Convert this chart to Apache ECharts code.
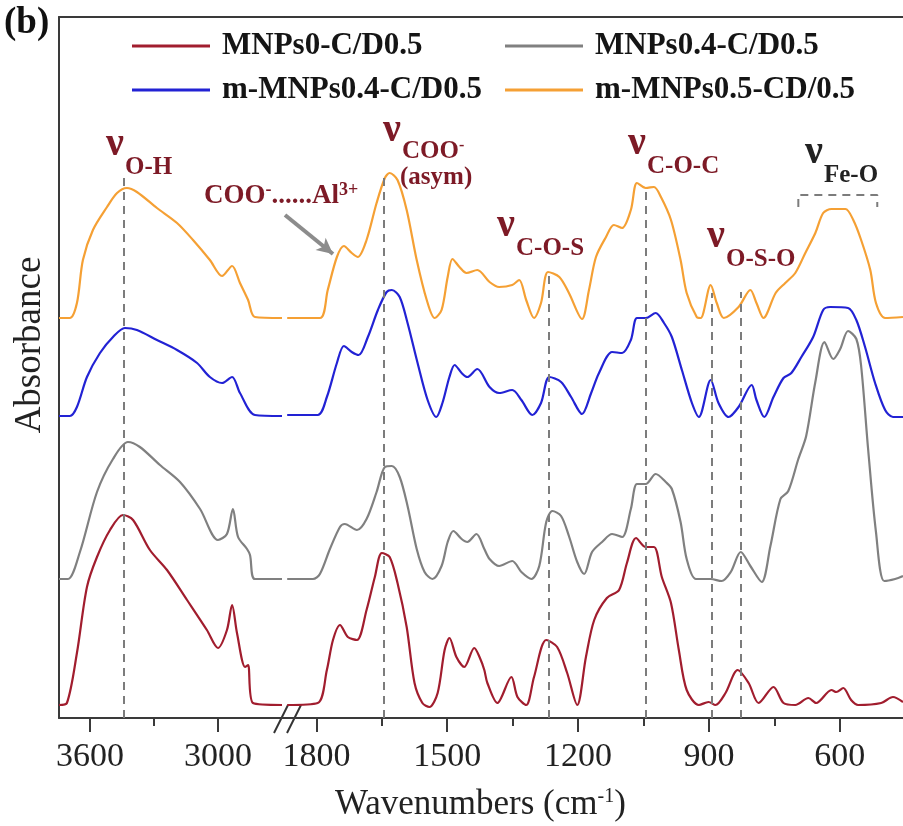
<!DOCTYPE html>
<html>
<head>
<meta charset="utf-8">
<script src="https://cdn.jsdelivr.net/npm/echarts@6/dist/echarts.min.js"></script>
<style>
  html, body { margin: 0; padding: 0; background: #ffffff; }
  #chart { width: 903px; height: 826px; }
</style>
</head>
<body>
<div id="chart"></div>
<script>
// FTIR spectra, stacked, with a broken wavenumber axis (3745–2686 | 1872–455 cm-1)
const seriesNames = ['MNPs0-C/D0.5', 'MNPs0.4-C/D0.5', 'm-MNPs0.4-C/D0.5', 'm-MNPs0.5-CD/0.5'];
const seriesColors = ['#a11d2e', '#808080', '#2222d4', '#f5a034'];
// vertical offsets used to stack the spectra (a.u.)
const stackOffsets = [13, 139, 302, 400];

// high-wavenumber region: [wavenumber (cm-1), absorbance (a.u.)]
const mnps0High = [[3745,0],[3708,2],[3661,52],[3614,118],[3567,148],[3506,175],[3445,190],[3398,185],[3319,155],[3239,135],[3145,105],[3052,75],[3000,57],[2958,75],[2934,100],[2911,72],[2873,38],[2859,40],[2836,2],[2700,0]];
const mnps04High = [[3745,0],[3703,0],[3647,27],[3567,87],[3492,120],[3422,137],[3366,132],[3272,114],[3178,97],[3084,70],[3000,39],[2958,45],[2930,70],[2906,42],[2864,30],[2850,24],[2827,0],[2700,0]];
const mMnps04High = [[3745,0],[3694,0],[3661,9],[3614,39],[3553,63],[3492,79],[3436,88],[3380,86],[3286,76],[3192,66],[3098,53],[3038,39],[2981,33],[2934,39],[2897,23],[2827,1],[2700,0]];
const mMnps05High = [[3745,0],[3694,0],[3661,15],[3633,58],[3586,88],[3520,111],[3473,125],[3427,130],[3380,126],[3286,110],[3192,95],[3117,78],[3038,58],[2981,42],[2934,52],[2897,35],[2859,18],[2827,1],[2700,0]];

// fingerprint region: [wavenumber (cm-1), absorbance (a.u.)]
const mnps0Low = [[1867,0],[1797,2],[1776,35],[1762,65],[1746,80],[1728,68],[1707,65],[1685,95],[1666,128],[1650,152],[1632,148],[1614,122],[1593,78],[1575,22],[1557,2],[1541,-2],[1522,12],[1506,55],[1495,67],[1479,48],[1461,38],[1438,57],[1426,48],[1415,35],[1408,22],[1385,2],[1353,28],[1339,8],[1319,0],[1301,28],[1273,65],[1248,58],[1225,32],[1202,0],[1182,48],[1163,85],[1134,107],[1106,115],[1088,142],[1067,167],[1045,158],[1026,158],[1008,128],[987,102],[969,55],[951,15],[923,0],[901,3],[885,0],[862,12],[834,35],[809,22],[786,2],[752,18],[729,2],[702,0],[672,7],[654,2],[619,15],[608,13],[592,17],[574,5],[558,0],[505,2],[478,8],[455,3]];
const mnps04Low = [[1867,0],[1808,0],[1792,5],[1769,30],[1746,52],[1735,55],[1707,49],[1685,60],[1662,87],[1643,112],[1627,113],[1609,102],[1591,73],[1570,30],[1552,7],[1534,0],[1513,13],[1499,37],[1486,48],[1467,40],[1454,37],[1433,45],[1415,30],[1403,20],[1381,13],[1351,18],[1330,7],[1307,0],[1289,13],[1273,57],[1259,68],[1239,63],[1221,43],[1202,17],[1186,5],[1168,27],[1145,37],[1122,45],[1099,42],[1079,70],[1065,95],[1045,95],[1022,105],[999,97],[985,90],[965,57],[951,20],[930,0],[896,0],[871,-2],[850,7],[827,27],[805,13],[779,-3],[759,33],[736,80],[718,88],[695,120],[677,143],[656,197],[635,237],[615,220],[599,230],[581,248],[562,240],[551,213],[535,130],[517,47],[498,-2],[473,0],[455,3]];
const mMnps04Low = [[1867,1],[1797,1],[1776,19],[1753,53],[1737,70],[1719,64],[1703,61],[1682,79],[1659,106],[1639,124],[1627,126],[1609,119],[1591,93],[1568,53],[1545,16],[1525,-1],[1511,13],[1495,39],[1483,51],[1467,43],[1454,39],[1431,47],[1403,29],[1381,23],[1351,26],[1330,16],[1305,1],[1285,13],[1266,39],[1239,34],[1216,19],[1191,2],[1170,23],[1152,43],[1122,64],[1099,63],[1079,76],[1065,98],[1045,98],[1022,103],[1003,93],[985,79],[962,46],[939,13],[923,-1],[896,36],[878,13],[855,-1],[832,9],[802,31],[791,16],[773,-1],[752,19],[729,38],[711,43],[688,59],[661,79],[638,106],[622,109],[581,108],[562,96],[542,69],[519,33],[496,6],[478,-1],[455,-1]];
const mMnps05Low = [[1867,0],[1792,0],[1774,28],[1753,61],[1737,72],[1719,65],[1705,61],[1685,78],[1662,115],[1643,140],[1632,145],[1614,138],[1593,108],[1570,58],[1547,18],[1529,0],[1513,8],[1499,41],[1488,59],[1472,51],[1456,45],[1431,48],[1403,36],[1381,31],[1351,33],[1335,38],[1319,18],[1301,0],[1285,15],[1269,46],[1243,41],[1221,25],[1191,-1],[1175,28],[1159,61],[1136,81],[1118,93],[1099,90],[1079,108],[1065,135],[1045,130],[1026,131],[1010,121],[987,98],[965,58],[951,25],[928,1],[919,0],[896,33],[882,15],[866,0],[832,11],[805,28],[791,15],[775,0],[747,25],[725,35],[702,45],[679,65],[656,85],[638,105],[619,109],[587,109],[569,98],[551,78],[530,48],[517,15],[496,0],[455,1]];

// axis ticks (cm-1)
const majorTicksHigh = [3600, 3000];
const minorTicksHigh = [3300];
const majorTicksLow = [1800, 1500, 1200, 900, 600];
const minorTicksLow = [1650, 1350, 1050, 750];

// band assignment guides: [wavenumber, top of guide (a.u.)]
const bandGuides = [[3441, 540], [1645, 545], [1268, 445], [1045, 530], [894, 425], [828, 426]];
// Fe-O band bracket: [wavenumber, level]
const feOBracket = [[695, 511], [695, 523], [514, 523], [514, 511]];

const highSets = [mnps0High, mnps04High, mMnps04High, mMnps05High];
const lowSets = [mnps0Low, mnps04Low, mMnps04Low, mMnps05Low];

const SERIF = '"Liberation Serif", "Times New Roman", serif';
const FRAME = '#3a3a3a';
const LABEL_RED = '#7d1a26';
const GUIDE = '#7c7c7c';

function lift(pairs, off) { return pairs.map(p => [p[0], p[1] + off]); }

function guideLines(filterFn) {
  return bandGuides.filter(g => filterFn(g[0])).map(g => [
    { coord: [g[0], 0] }, { coord: [g[0], g[1]] }
  ]);
}

const series = [];
for (let i = 0; i < 4; i++) {
  const base = {
    type: 'line', name: seriesNames[i], showSymbol: false, symbol: 'none',
    smooth: 0.3, lineStyle: { color: seriesColors[i], width: 2.2 },
    itemStyle: { color: seriesColors[i] }, z: 3, silent: true
  };
  series.push(Object.assign({}, base, {
    xAxisIndex: 0, yAxisIndex: 0, data: lift(highSets[i], stackOffsets[i])
  }));
  series.push(Object.assign({}, base, {
    xAxisIndex: 3, yAxisIndex: 1, data: lift(lowSets[i], stackOffsets[i])
  }));
}
// dashed guides
series[0].markLine = {
  silent: true, symbol: ['none', 'none'], label: { show: false }, animation: false,
  lineStyle: { type: [8, 6], color: GUIDE, width: 2 },
  data: guideLines(w => w > 2000)
};
series[1].markLine = {
  silent: true, symbol: ['none', 'none'], label: { show: false }, animation: false,
  lineStyle: { type: [8, 6], color: GUIDE, width: 2 },
  data: guideLines(w => w < 2000)
};
// arrow pointing at the COO-...Al3+ shoulder
series[3].markLine = {
  silent: true, symbol: ['none', 'arrow'], symbolSize: [12, 16], label: { show: false }, animation: false,
  lineStyle: { type: 'solid', color: '#8c8c8c', width: 4 },
  data: [[{ x: 285, y: 215 }, { x: 333, y: 254 }]]
};
series.push({
  type: 'line', name: 'Fe-O bracket', xAxisIndex: 3, yAxisIndex: 1, data: feOBracket,
  showSymbol: false, symbol: 'none', silent: true,
  lineStyle: { color: GUIDE, width: 2, type: [8, 6] }, z: 2
});

function xAxisPair(gridIndex, lo, hi, major, minor) {
  return [
    {
      type: 'value', gridIndex, min: lo, max: hi, inverse: true, position: 'bottom',
      axisLine: { show: true, lineStyle: { color: FRAME, width: 2 } },
      axisTick: { show: true, inside: false, length: 14, customValues: major, lineStyle: { color: FRAME, width: 2 } },
      axisLabel: { show: true, customValues: major, formatter: v => String(v), fontFamily: SERIF, fontSize: 34, color: '#222', margin: 22 },
      splitLine: { show: false }
    },
    {
      type: 'value', gridIndex, min: lo, max: hi, inverse: true, position: 'bottom',
      axisLine: { show: false },
      axisTick: { show: true, inside: false, length: 8, customValues: minor, lineStyle: { color: FRAME, width: 2 } },
      axisLabel: { show: false }, splitLine: { show: false }
    },
    {
      type: 'value', gridIndex, min: lo, max: hi, inverse: true, position: 'top',
      axisLine: { show: true, lineStyle: { color: FRAME, width: 2 } },
      axisTick: { show: false }, axisLabel: { show: false }, splitLine: { show: false }
    }
  ];
}

const legendBase = {
  orient: 'vertical', top: 24, padding: 0, itemGap: 0, itemWidth: 78, itemHeight: 3,
  icon: 'rect', selectedMode: false,
  textStyle: { fontFamily: SERIF, fontWeight: 'bold', fontSize: 31, color: '#151515', lineHeight: 30, padding: [14, 0, 0, 7] }
};

function nuLabel(x, y, sub, color, subRich) {
  const c = color || LABEL_RED;
  const els = [{
    type: 'text', x: x, y: y, silent: true,
    style: { text: 'ν', fontFamily: SERIF, fontWeight: 'bold', fontSize: 40, fill: c, align: 'left', verticalAlign: 'bottom' }
  }];
  const subEl = {
    type: 'text', x: x + 19, y: y + 15, silent: true,
    style: { text: sub, fontFamily: SERIF, fontWeight: 'bold', fontSize: 25, fill: c, align: 'left', verticalAlign: 'bottom' }
  };
  if (subRich) subEl.style.rich = subRich;
  els.push(subEl);
  return els;
}

const supRich = {
  b: { fontFamily: SERIF, fontWeight: 'bold', fontSize: 25, fill: LABEL_RED },
  s: { fontFamily: SERIF, fontWeight: 'bold', fontSize: 16, fill: LABEL_RED, verticalAlign: 'top', padding: [0, 0, 12, 0] }
};
const alRich = {
  b: { fontFamily: SERIF, fontWeight: 'bold', fontSize: 27, fill: LABEL_RED },
  s: { fontFamily: SERIF, fontWeight: 'bold', fontSize: 18, fill: LABEL_RED, verticalAlign: 'top', padding: [0, 0, 12, 0] }
};

const graphics = [].concat(
  nuLabel(106, 165, 'O-H'),
  nuLabel(383, 151, '{b|COO}{s|-}', LABEL_RED, supRich),
  nuLabel(497, 246, 'C-O-S'),
  nuLabel(628, 164, 'C-O-C'),
  nuLabel(707, 257, 'O-S-O'),
  nuLabel(805, 173, 'Fe-O', '#222222'),
  [
    { type: 'text', x: 400, y: 190, silent: true,
      style: { text: '(asym)', fontFamily: SERIF, fontWeight: 'bold', fontSize: 25, fill: LABEL_RED, align: 'left', verticalAlign: 'bottom' } },
    { type: 'text', x: 204, y: 211, silent: true,
      style: { text: '{b|COO}{s|-}{b|......Al}{s|3+}', rich: alRich, align: 'left', verticalAlign: 'bottom' } },
    { type: 'text', x: 4, y: 5, silent: true,
      style: { text: '(b)', fontFamily: SERIF, fontWeight: 'bold', fontSize: 37, fill: '#111', align: 'left', verticalAlign: 'top' } },
    { type: 'text', x: 30, y: 345, rotation: Math.PI / 2, silent: true,
      style: { text: 'Absorbance', fontFamily: SERIF, fontSize: 37, fill: '#222', align: 'center', verticalAlign: 'middle' } },
    { type: 'text', x: 335, y: 822, silent: true,
      style: {
        text: '{a|Wavenumbers (cm}{s|-1}{a|)}', align: 'left', verticalAlign: 'bottom',
        rich: {
          a: { fontFamily: SERIF, fontSize: 35, fill: '#222' },
          s: { fontFamily: SERIF, fontSize: 20, fill: '#222', verticalAlign: 'top' }
        }
      } },
    // axis break marks
    { type: 'line', silent: true, shape: { x1: 274, y1: 733, x2: 288, y2: 705 }, style: { stroke: '#333', lineWidth: 2 } },
    { type: 'line', silent: true, shape: { x1: 287, y1: 733, x2: 301, y2: 705 }, style: { stroke: '#333', lineWidth: 2 } }
  ]
);

const chart = echarts.init(document.getElementById('chart'), null, { renderer: 'canvas' });
chart.setOption({
  animation: false,
  backgroundColor: '#ffffff',
  grid: [
    { left: 59, top: 17, width: 226, height: 701 },
    { left: 285, top: 17, width: 620, height: 701 }
  ],
  xAxis: [].concat(
    xAxisPair(0, 2686, 3745, majorTicksHigh, minorTicksHigh),
    xAxisPair(1, 455, 1872, majorTicksLow, minorTicksLow)
  ),
  yAxis: [
    { type: 'value', gridIndex: 0, min: 0, max: 701,
      axisLine: { show: true, lineStyle: { color: FRAME, width: 2 } },
      axisTick: { show: false }, axisLabel: { show: false }, splitLine: { show: false } },
    { type: 'value', gridIndex: 1, min: 0, max: 701,
      axisLine: { show: false }, axisTick: { show: false }, axisLabel: { show: false }, splitLine: { show: false } }
  ],
  legend: [
    Object.assign({}, legendBase, { left: 132, data: [seriesNames[0], seriesNames[2]] }),
    Object.assign({}, legendBase, { left: 505, data: [seriesNames[1], seriesNames[3]] })
  ],
  series: series,
  graphic: graphics
});
</script>
</body>
</html>
